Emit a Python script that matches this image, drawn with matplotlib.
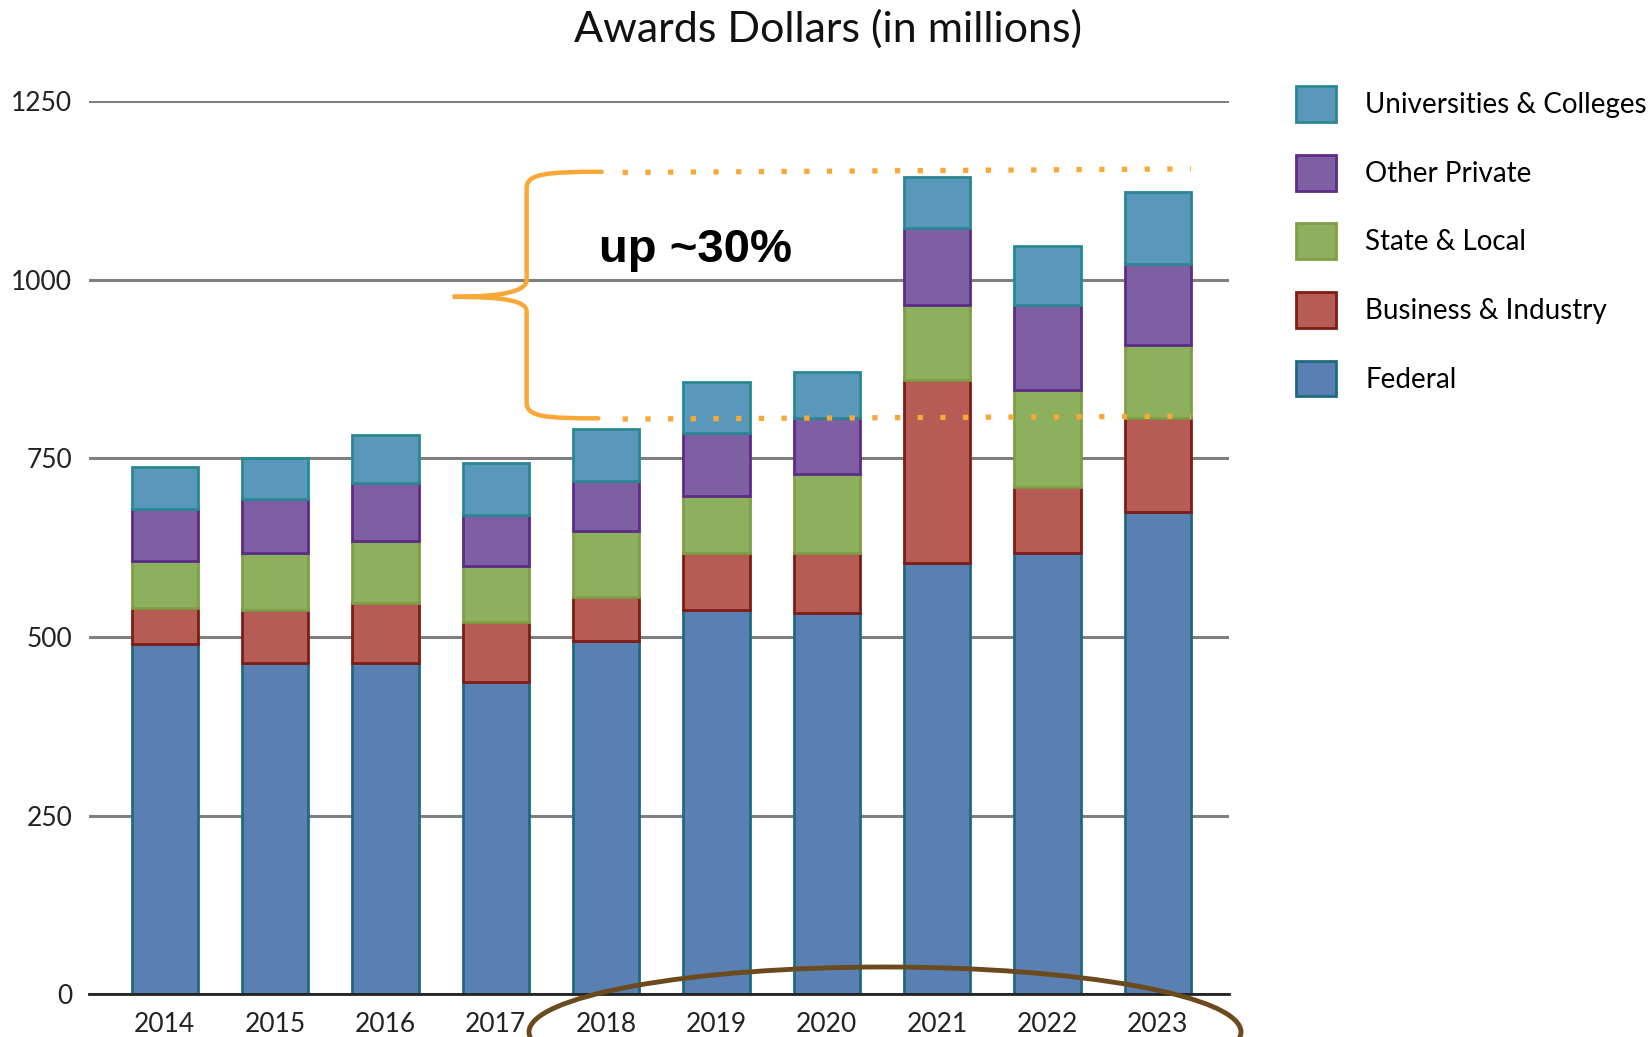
import numpy as np
import matplotlib.pyplot as plt
from matplotlib.patches import Patch, Ellipse
from matplotlib.path import Path
from matplotlib.patches import PathPatch

plt.rcParams['font.family'] = ['Lato', 'DejaVu Sans']

# datos (millones de dolares)
years = ['2014', '2015', '2016', '2017', '2018', '2019', '2020', '2021', '2022', '2023']
federal = [490, 463, 463, 437, 494, 538, 534, 604, 618, 675]
business = [51, 75, 84, 84, 62, 80, 84, 256, 92, 132]
state_local = [66, 80, 87, 79, 93, 79, 110, 105, 136, 102]
other_private = [72, 75, 81, 71, 70, 88, 79, 107, 119, 113]
universities = [59, 58, 67, 72, 72, 72, 64, 72, 82, 100]

series = ['Federal', 'Business & Industry', 'State & Local', 'Other Private', 'Universities & Colleges']
values = [federal, business, state_local, other_private, universities]
fills = ['#5a7fb2', '#b55c55', '#8db05e', '#7e5fa4', '#5a98bb']
edges = ['#216a7e', '#7e1d16', '#7f9e45', '#5c2c86', '#2a8893']

fig = plt.figure(figsize=(16.5, 10.37), dpi=100)
ax = fig.add_axes([0.0539, 0.0411, 0.6909, 0.8615])

x = np.arange(len(years))
bottom = np.zeros(len(years))
for vals, nombre, fc, ec in zip(values, series, fills, edges):
    ax.bar(x, vals, width=0.6, bottom=bottom, color=fc, edgecolor=ec,
           linewidth=2, label=nombre, zorder=3)
    bottom += np.array(vals)

ax.set_xlim(-0.687, 9.645)
ax.set_ylim(0, 1250)
ax.set_yticks([0, 250, 500, 750, 1000, 1250])
ax.set_xticks(x)
ax.set_xticklabels(years)
ax.tick_params(axis='both', length=0, labelsize=19, colors='#222222')
ax.tick_params(axis='y', pad=12)
ax.tick_params(axis='x', pad=12.5)
ax.grid(axis='y', color='#7f7f7f', linewidth=2.2, zorder=0)
for s in ['top', 'right', 'left']:
    ax.spines[s].set_visible(False)
ax.spines['bottom'].set_color('#222222')
ax.spines['bottom'].set_linewidth(2)
ax.spines['bottom'].set_zorder(4)

fig.text(828 / 1650, 1 - 29 / 1037, 'Awards Dollars (in millions)', ha='center', va='center',
         fontsize=31, color='#111111')

# leyenda (orden inverso)
handles = [Patch(facecolor=fc, edgecolor=ec, linewidth=2) for fc, ec in zip(fills, edges)][::-1]
fig.legend(handles, series[::-1], loc='upper left', bbox_to_anchor=(1296 / 1650, 1 - 86 / 1037),
           frameon=False, fontsize=20, handlelength=1.44, handleheight=1.61,
           labelspacing=1.18, handletextpad=1.05, borderpad=0, borderaxespad=0)

# llave naranja y lineas punteadas
naranja = '#f9a736'
verts = [(3.96, 1151), (3.45, 1151), (3.28, 1148), (3.28, 1128),
         (3.28, 1000),
         (3.28, 985), (3.1, 976), (2.61, 976),
         (3.1, 976), (3.28, 970), (3.28, 955),
         (3.28, 828),
         (3.28, 808), (3.45, 806), (3.93, 806)]
codes = [Path.MOVETO, Path.CURVE4, Path.CURVE4, Path.CURVE4,
         Path.LINETO,
         Path.CURVE4, Path.CURVE4, Path.CURVE4,
         Path.CURVE4, Path.CURVE4, Path.CURVE4,
         Path.LINETO,
         Path.CURVE4, Path.CURVE4, Path.CURVE4]
ax.add_patch(PathPatch(Path(verts, codes), fill=False, edgecolor=naranja, linewidth=3.2,
                       capstyle='round', zorder=5, clip_on=False))
ax.plot([4.15, 9.3], [1150, 1155], color=naranja, linewidth=3.8, linestyle=(0, (1, 3.3)),
        dash_capstyle='butt', zorder=5)
ax.plot([4.15, 9.3], [805, 809], color=naranja, linewidth=3.8, linestyle=(0, (1, 3.3)),
        dash_capstyle='butt', zorder=5)
ax.text(3.94, 1041, 'up ~30%', ha='left', va='center', fontsize=34, fontweight='bold',
        family='Liberation Sans', color='black', zorder=6)

# elipse marron sobre 2018-2023
fig.add_artist(Ellipse((885 / 1650, 1 - 1032 / 1037), 712 / 1650, 130 / 1037,
                       transform=fig.transFigure, fill=False, edgecolor='#6b4a1e', linewidth=3.5))

plt.savefig('out.png')
